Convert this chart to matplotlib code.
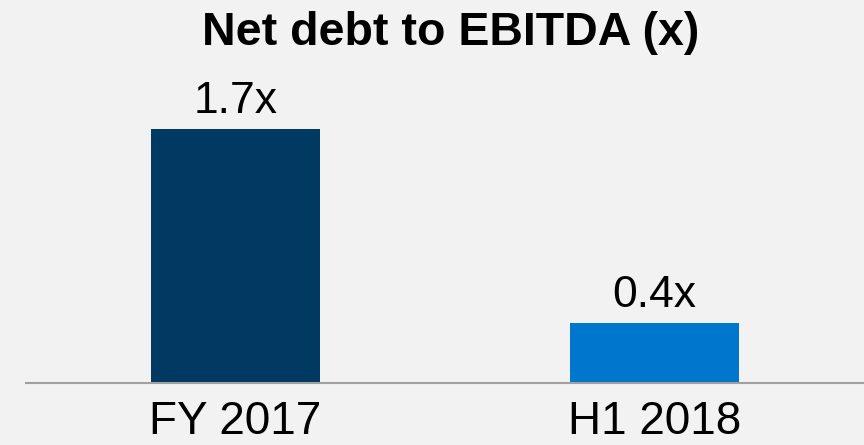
import matplotlib.pyplot as plt

# Leverage figures
periods = ['FY 2017', 'H1 2018']
ratios = [1.7, 0.4]
labels = ['1.7x', '0.4x']
colors = ['#003A63', '#0077CC']

plt.rcParams['font.family'] = ['Liberation Sans', 'DejaVu Sans']

fig = plt.figure(figsize=(8.64, 4.45), dpi=100, facecolor='#F2F2F2')
ax = fig.add_axes([26 / 864, 62 / 445, 838 / 864, 299 / 445])
ax.set_facecolor('#F2F2F2')

x = range(len(periods))
bars = ax.bar(x, ratios, width=0.405, color=colors)

# value labels above each bar
for b, lab in zip(bars, labels):
    ax.annotate(lab, (b.get_x() + b.get_width() / 2, b.get_height()),
                xytext=(0, 11.5), textcoords='offset points',
                ha='center', va='baseline', fontsize=32, color='black',
                annotation_clip=False)

ax.set_xlim(-0.5, 1.5)
ax.set_ylim(0, 2.0)
ax.set_xticks(list(x))
ax.set_xticklabels(periods, fontsize=33)
ax.tick_params(axis='x', length=0, pad=12)
ax.set_yticks([])

for side in ['top', 'right', 'left']:
    ax.spines[side].set_visible(False)
ax.spines['bottom'].set_color('#A0A0A0')
ax.spines['bottom'].set_linewidth(1.5)

fig.text(451 / 864, (445 - 45) / 445, 'Net debt to EBITDA (x)',
         ha='center', va='baseline', fontsize=33.5, fontweight='bold')

fig.savefig('out.png', dpi=100, facecolor=fig.get_facecolor())
